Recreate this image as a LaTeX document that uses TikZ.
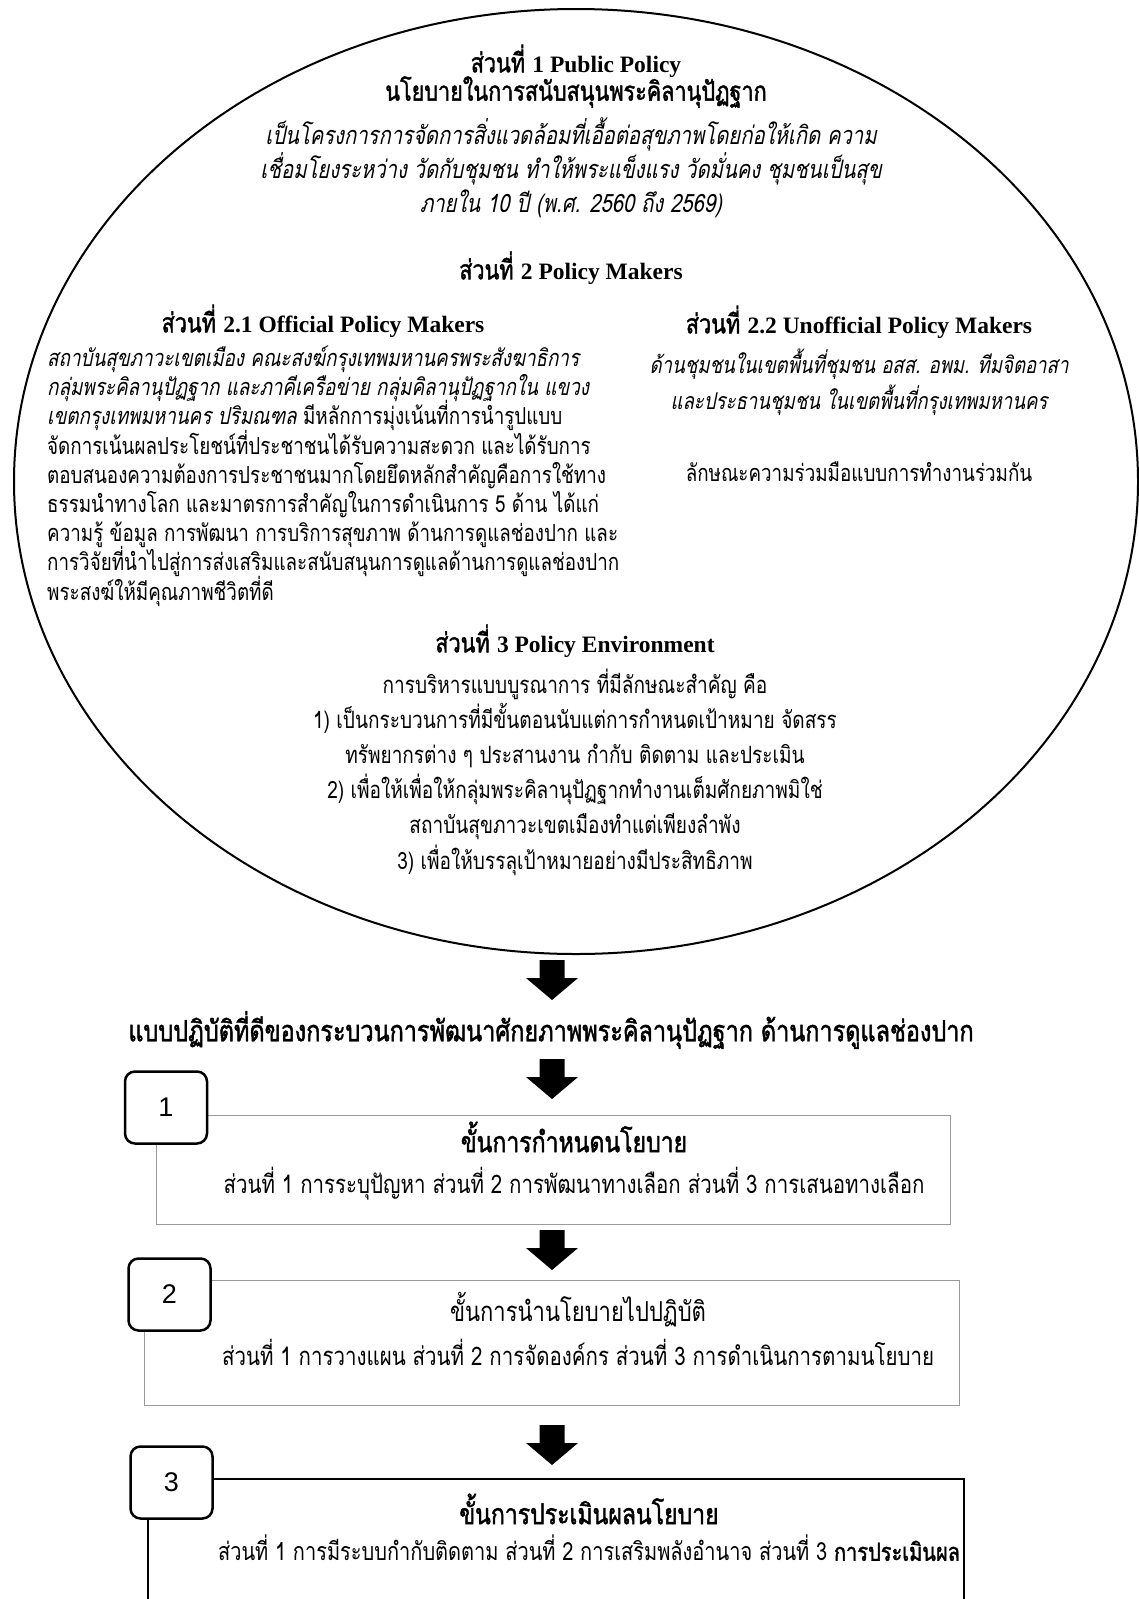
\documentclass[tikz,border=0pt]{standalone}
\usepackage{fontspec}
\usetikzlibrary{shapes.geometric}
\newfontfamily\thaifont[Script=Thai,FakeStretch=0.8]{Loma}
\newfontfamily\thaibold[Script=Thai,FakeStretch=0.8,FakeBold=1.5]{Loma}
\newfontfamily\thaiital[Script=Thai,FakeStretch=0.8,FakeSlant=0.2]{Loma}
\newfontfamily\latserif{Liberation Serif}
\newfontfamily\latsans{Liberation Sans}
\newcommand{\sectline}[1]{{\thaibold ส่วนที่} {\latserif\bfseries\fontsize{23.5}{31}\selectfont #1}}
\newcommand{\tightlines}{\lineskiplimit=-100pt\relax}
\tightlines

\tikzset{
	head/.style = {font = \thaibold\fontsize{27}{31}\selectfont, inner sep = 0pt},
	body/.style = {font = {\thaifont\fontsize{23.5}{29.2}\selectfont\tightlines}, inner sep = 0pt},
	bodyit/.style = {font = {\thaiital\fontsize{23.2}{34}\selectfont\tightlines}, inner sep = 0pt},
	stagehead/.style = {font = \thaibold\fontsize{28.8}{30}\selectfont, inner sep = 0pt},
	stagetext/.style = {font = \thaifont\fontsize{25.6}{30}\selectfont, inner sep = 0pt},
	stagebox/.style = {draw = gray!80, line width = 1pt},
	tabbox/.style = {draw, line width = 2.5pt, rounded corners = 10pt, fill = white,
		minimum width = 82pt, minimum height = 72pt, font = \latsans\fontsize{27}{27}\selectfont},
	downarrow/.pic = {\fill (-12.5,0) -- (12.5,0) -- (12.5,18) -- (26,18) -- (0,40) -- (-26,18) -- (-12.5,18) -- cycle;}
}

\begin{document}
\begin{tikzpicture}[x = 1pt, y = -1pt]
	\useasboundingbox (0,0) rectangle (1139,1599);
	% ellipse with the policy parts
	\node[ellipse, draw, line width = 2pt, minimum width = 1124pt, minimum height = 945pt] (policy) at (576,481.5) {};
	\node[head] (p1) at (576,61) {\sectline{1 Public Policy}};
	\node[head] (p1name) at (576,92) {นโยบายในการสนับสนุนพระคิลานุปัฏฐาก};
	\node[bodyit, align = center, font = {\thaiital\fontsize{25.3}{34}\selectfont\tightlines}] (p1text) at (571,168) {เป็นโครงการการจัดการสิ่งแวดล้อมที่เอื้อต่อสุขภาพโดยก่อให้เกิด ความ\\
		เชื่อมโยงระหว่าง วัดกับชุมชน ทำให้พระแข็งแรง วัดมั่นคง ชุมชนเป็นสุข\\
		ภายใน 10 ปี (พ.ศ. 2560 ถึง 2569)};
	\node[head] (p2) at (571,268) {\sectline{2 Policy Makers}};
	\node[head] (p21) at (323,321) {\sectline{2.1 Official Policy Makers}};
	\node[body, align = left, anchor = west] (p21text) at (47,476) {{\thaiital สถาบันสุขภาวะเขตเมือง คณะสงฆ์กรุงเทพมหานครพระสังฆาธิการ}\\
		{\thaiital กลุ่มพระคิลานุปัฏฐาก และภาคีเครือข่าย กลุ่มคิลานุปัฏฐากใน แขวง}\\
		{\thaiital เขตกรุงเทพมหานคร ปริมณฑล} มีหลักการมุ่งเน้นที่การนำรูปแบบ\\
		จัดการเน้นผลประโยชน์ที่ประชาชนได้รับความสะดวก และได้รับการ\\
		ตอบสนองความต้องการประชาชนมากโดยยึดหลักสำคัญคือการใช้ทาง\\
		ธรรมนำทางโลก และมาตรการสำคัญในการดำเนินการ 5 ด้าน ได้แก่\\
		ความรู้ ข้อมูล การพัฒนา การบริการสุขภาพ ด้านการดูแลช่องปาก และ\\
		การวิจัยที่นำไปสู่การส่งเสริมและสนับสนุนการดูแลด้านการดูแลช่องปาก\\
		พระสงฆ์ให้มีคุณภาพชีวิตที่ดี};
	\node[head] (p22) at (859,322) {\sectline{2.2 Unofficial Policy Makers}};
	\node[bodyit, align = center, font = {\thaiital\fontsize{23.2}{36}\selectfont\tightlines}] (p22text) at (859,382) {ด้านชุมชนในเขตพื้นที่ชุมชน อสส. อพม. ทีมจิตอาสา\\
		และประธานชุมชน ในเขตพื้นที่กรุงเทพมหานคร};
	\node[body] (p22way) at (859,472) {ลักษณะความร่วมมือแบบการทำงานร่วมกัน};
	\node[head] (p3) at (575,641) {\sectline{3 Policy Environment}};
	\node[body, align = center, font = {\thaifont\fontsize{23.8}{35.2}\selectfont\tightlines}] (p3text) at (575,772) {การบริหารแบบบูรณาการ ที่มีลักษณะสำคัญ คือ\\
		1) เป็นกระบวนการที่มีขั้นตอนนับแต่การกำหนดเป้าหมาย จัดสรร\\
		ทรัพยากรต่าง ๆ ประสานงาน กำกับ ติดตาม และประเมิน\\
		2) เพื่อให้เพื่อให้กลุ่มพระคิลานุปัฏฐากทำงานเต็มศักยภาพมิใช่\\
		สถาบันสุขภาวะเขตเมืองทำแต่เพียงลำพัง\\
		3) เพื่อให้บรรลุเป้าหมายอย่างมีประสิทธิภาพ};
	% good practice title
	\pic (arr1) at (552,960) {downarrow};
	\node[head, font = \thaibold\fontsize{29.3}{30}\selectfont] (practice) at (551,1030) {แบบปฏิบัติที่ดีของกระบวนการพัฒนาศักยภาพพระคิลานุปัฏฐาก ด้านการดูแลช่องปาก};
	\pic (arr2) at (552,1059) {downarrow};
	% stage 1
	\node[stagebox, minimum width = 794pt, minimum height = 109pt] (stage1) at (553,1169.5) {};
	\node[tabbox] (tab1) at (166,1107.5) {1};
	\node[stagehead] (stage1name) at (574,1137) {ขั้นการกำหนดนโยบาย};
	\node[stagetext] (stage1text) at (574,1184) {ส่วนที่ 1 การระบุปัญหา ส่วนที่ 2 การพัฒนาทางเลือก ส่วนที่ 3 การเสนอทางเลือก};
	\pic (arr3) at (552,1230) {downarrow};
	% stage 2
	\node[stagebox, minimum width = 815pt, minimum height = 125pt] (stage2) at (551.5,1342.5) {};
	\node[tabbox] (tab2) at (169.5,1294.5) {2};
	\node[stagetext, font = \thaifont\fontsize{27.5}{30}\selectfont] (stage2name) at (578,1310) {ขั้นการนำนโยบายไปปฏิบัติ};
	\node[stagetext] (stage2text) at (578,1352) {ส่วนที่ 1 การวางแผน ส่วนที่ 2 การจัดองค์กร ส่วนที่ 3 การดำเนินการตามนโยบาย};
	\pic (arr4) at (552,1425) {downarrow};
	% stage 3, cut by the page edge
	\draw[line width = 1.3pt] (148,1600) |- (964,1479) coordinate (stage3) -- (964,1600);
	\node[tabbox] (tab3) at (171.5,1482.5) {3};
	\node[stagehead] (stage3name) at (589,1509) {ขั้นการประเมินผลนโยบาย};
	\node[stagetext, font = \thaifont\fontsize{25}{30}\selectfont] (stage3text) at (589,1548) {ส่วนที่ 1 การมีระบบกำกับติดตาม ส่วนที่ 2 การเสริมพลังอำนาจ ส่วนที่ 3 {\thaibold การประเมินผล}};
\end{tikzpicture}
\end{document}
